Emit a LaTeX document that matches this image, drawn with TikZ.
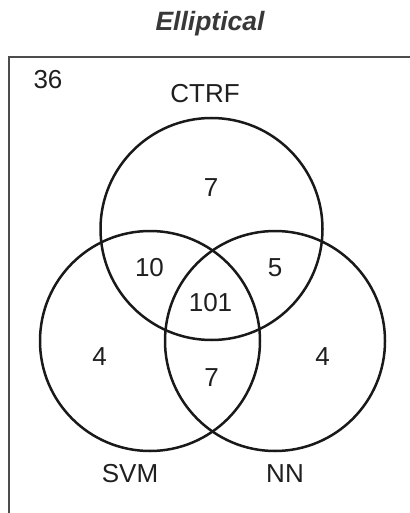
\documentclass[tikz,border=0pt]{standalone}
\usepackage{fontspec}
\setmainfont{Liberation Sans}
\begin{document}
\begin{tikzpicture}[x=1pt,y=-1pt,
  lbl/.style={inner sep=0pt,font=\fontsize{26}{30}\selectfont,text=black!88},
  ttl/.style={inner sep=0pt,font=\fontsize{26.5}{30}\selectfont\bfseries\itshape,text=black!78},
  setcircle/.style={draw=black!90,line width=2.5pt},
  frame/.style={draw=black!70,line width=2pt}]
\useasboundingbox (0,0) rectangle (409,513);
% frame
\coordinate (fb) at (9,514);
\coordinate (fc) at (9,57);
\coordinate (fr) at (410,57);
\draw[frame] (fb) -- (fc) -- (fr);
% circles
\draw[setcircle] (211.5,229) circle[radius=111];
\draw[setcircle] (150,341) circle[radius=110];
\draw[setcircle] (275,341) circle[radius=110];
% labels
\node[ttl] (title) at (210,24) {Elliptical};
\node[lbl] (outside) at (48,79.5) {36};
\node[lbl] (ctrf) at (205,94) {CTRF};
\node[lbl] (svm) at (130,474) {SVM};
\node[lbl] (nn) at (285,474) {NN};
\node[lbl] (c) at (211,187.5) {7};
\node[lbl] (cs) at (149.5,267.5) {10};
\node[lbl] (cn) at (275,267.5) {5};
\node[lbl] (csn) at (210.5,303) {101};
\node[lbl] (s) at (99.5,357) {4};
\node[lbl] (n) at (322.5,357) {4};
\node[lbl] (sn) at (211.5,377.5) {7};
\end{tikzpicture}
\end{document}
